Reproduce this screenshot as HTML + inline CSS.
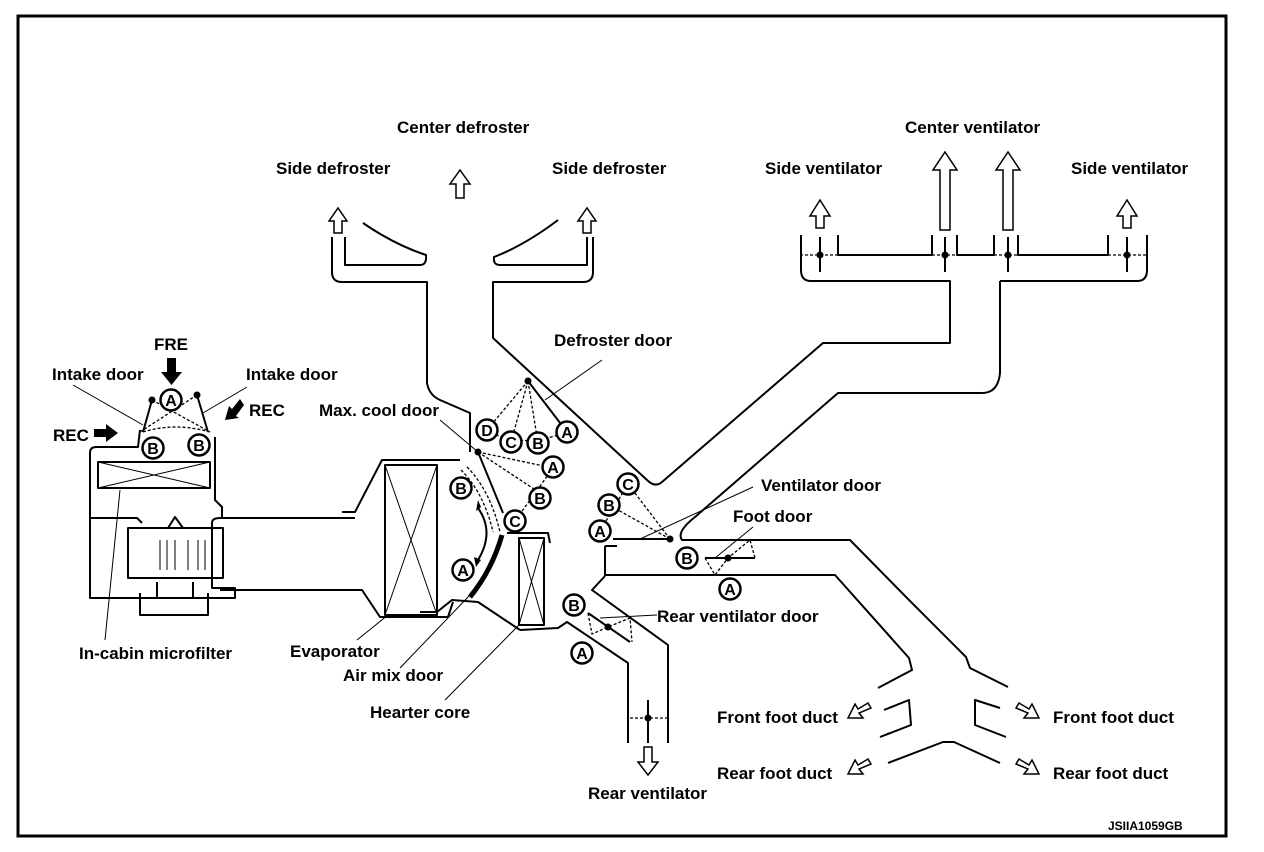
<!DOCTYPE html>
<html><head><meta charset="utf-8"><style>
html,body{margin:0;padding:0;background:#fff;}
svg{display:block;}
text{font-family:"Liberation Sans",Arial,sans-serif;font-size:17px;font-weight:bold;fill:#000;}
.c text{font-weight:bold;font-size:16px;text-anchor:middle;}
</style></head><body>
<svg width="1264" height="852" viewBox="0 0 1264 852" xmlns="http://www.w3.org/2000/svg">
<rect x="18" y="16" width="1208" height="820" fill="none" stroke="#000" stroke-width="3"/>
<g fill="none" stroke="#000" stroke-width="2" stroke-linejoin="round">
<path d="M332,237 V272 Q332,282 342,282 H427 V383 Q429,395 440,400 L470,413 V452"/>
<path d="M345,237 V265 H420 Q427,265 426,255 Q395,245 363,223"/>
<path d="M587,237 V265 H500 Q493,265 494,257 Q525,245 558,220"/>
<path d="M593,237 V272 Q593,282 583,282 H493 V338 L647,480 Q655,488 662,482 L823,343 H950 V281 H811 Q801,281 801,270 V235"/>
<path d="M1000,281 H1137 Q1147,281 1147,270 V235"/>
<path d="M1000,281 V373 Q998,393 982,393 H838 L695,517 Q676,532 682,540 H850 L909,600 L966,657 L970,668 L1008,687"/>
<path d="M605,546 H617 M605,546 V575 H835 L909,658 L912,670 L878,688"/>
<path d="M884,710 L909,700 L911,725 L880,737"/>
<path d="M1000,708 L975,700 L975,725 L1006,737"/>
<path d="M888,763 L943,742 L954,742 L1000,763"/>
<path d="M838,235 V255 H932 V235 M957,235 V255 H994 V235 M1018,235 V255 H1108 V235"/>
<path d="M605,576 L592,590 L668,645 V743"/>
<path d="M520,630 L558,628 L567,622 L628,663 V743"/>
<path d="M648,700 V743"/>
<path d="M420,612 H437 L452,600 L478,602 L520,630"/>
<rect x="519" y="538" width="25" height="87"/>
<path d="M507,533 H548 L550,543"/>
<path d="M342,512 H355 L382,460 H460"/>
<path d="M355,590 H362 L380,617 H448 L453,602"/>
<rect x="385" y="465" width="52" height="150"/>
<path d="M220,518 H355 M220,590 H355"/>
<path d="M140,430 L138,447 H96 Q90,447 90,453 V598 H235 V588 H212 V523 Q212,518 220,518"/>
<path d="M215,437 V500 L222,507 V518"/>
<path d="M90,518 H137 L142,523"/>
<path d="M140,593 V615 H208 V593 M157,582 V598 M193,582 V598"/>
<rect x="128" y="528" width="95" height="50"/>
<path d="M168,528 L175,517 L183,528"/>
<rect x="98" y="462" width="112" height="26"/>
<path d="M152,400 L143,432 M197,395 L208,432"/>
</g>
<g fill="none" stroke="#000" stroke-width="1">
<path d="M385,465 L437,615 M437,465 L385,615"/>
<path d="M519,538 L544,625 M544,538 L519,625"/>
<path d="M98,462 L210,488 M210,462 L98,488"/>
<path d="M160,540 V570 M167,540 V570 M175,540 V570 M188,540 V570 M198,540 V570 M205,540 V570 M212,540 V570"/>
<path d="M73,385 L143,425 M247,387 L203,413 M120,490 L105,640 M388,615 L357,640 M470,595 L400,668 M519,625 L445,700 M440,420 L478,452 M602,360 L545,400 M753,487 L640,539 M753,527 L715,558 M600,618 L657,615"/>
</g>
<g fill="none" stroke="#000" stroke-width="1.3" stroke-dasharray="3,2">
<path d="M152,400 L210,432 M197,395 L140,432 M143,432 Q175,422 210,432"/>
<path d="M528,381 L487,430 M528,381 L511,442 M528,381 L538,443 M487,430 Q520,450 567,432"/>
<path d="M478,452 L553,468 M478,452 L540,493 M553,468 L515,521"/>
<path d="M467,467 Q490,490 500,532 M461,470 Q484,493 493,532"/>
<path d="M670,539 L628,484 M670,539 L609,505 M628,484 L600,531"/>
<path d="M705,558 L715,575 L728,558 L750,540 L755,558"/>
<path d="M588,613 L592,634 L608,627 L630,618 L632,642"/>
<path d="M800,255 H838 M932,255 H957 M994,255 H1018 M1108,255 H1147 M630,718 H667"/>
</g>
<g stroke="#000" stroke-width="2" fill="none">
<path d="M528,381 L567,432 M478,452 L503,513 M613,539 H670 M705,558 H755 M588,613 L630,642"/>
<path d="M820,237 V272 M945,237 V272 M1008,237 V272 M1127,237 V272"/>
<path d="M478,508 Q495,532 478,560"/>
</g>
<path d="M502,535 Q492,570 470,597" stroke="#000" stroke-width="5" fill="none"/>
<g fill="#000">
<circle cx="152" cy="400" r="3.5"/><circle cx="197" cy="395" r="3.5"/>
<circle cx="528" cy="381" r="3.5"/><circle cx="478" cy="452" r="3.5"/>
<circle cx="670" cy="539" r="3.5"/><circle cx="728" cy="558" r="3.5"/>
<circle cx="608" cy="627" r="3.5"/><circle cx="648" cy="718" r="3.5"/>
<circle cx="820" cy="255" r="3.5"/><circle cx="945" cy="255" r="3.5"/>
<circle cx="1008" cy="255" r="3.5"/><circle cx="1127" cy="255" r="3.5"/>
<path d="M476,511 L481,507 L478,500 Z M474,557 L481,560 L476,567 Z"/>
<path d="M167,358 H176 V372 H182 L171.5,385 L161,372 H167 Z"/>
<path d="M94,429 H106 V424 L118,433 L106,442 V437 H94 Z"/>
<path d="M244,405 L236,416 L239,418 L225,420 L229,406 L232,409 L240,399 Z"/>
</g>
<g fill="#fff" stroke="#000" stroke-width="1.5">
<path d="M334,233 V221 H329 L338,208 L347,221 H342 V233 Z"/>
<path d="M456,198 V184 H450 L460,170 L470,184 H464 V198 Z"/>
<path d="M583,233 V221 H578 L587,208 L596,221 H591 V233 Z"/>
<path d="M816,228 V216 H810 L820,200 L830,216 H824 V228 Z"/>
<path d="M1123,228 V216 H1117 L1127,200 L1137,216 H1131 V228 Z"/>
<path d="M940,230 V170 H933 L945,152 L957,170 H950 V230 Z"/>
<path d="M1003,230 V170 H996 L1008,152 L1020,170 H1013 V230 Z"/>
<path d="M644,747 V762 H638 L648,775 L658,762 H652 V747 Z"/>
<path d="M868,703 L858,709 L855,704 L848,718 L863,718 L859,713 L871,708 Z"/>
<path d="M868,759 L858,765 L855,760 L848,774 L863,774 L859,769 L871,764 Z"/>
<path d="M1019,703 L1029,709 L1032,704 L1039,718 L1024,718 L1028,713 L1016,708 Z"/>
<path d="M1019,759 L1029,765 L1032,760 L1039,774 L1024,774 L1028,769 L1016,764 Z"/>
</g>
<g class="c">
<g fill="#fff" stroke="#000" stroke-width="2.5">
<circle cx="171" cy="400" r="10.5"/><circle cx="153" cy="448" r="10.5"/><circle cx="199" cy="445" r="10.5"/>
<circle cx="487" cy="430" r="10.5"/><circle cx="511" cy="442" r="10.5"/><circle cx="538" cy="443" r="10.5"/><circle cx="567" cy="432" r="10.5"/>
<circle cx="553" cy="467" r="10.5"/><circle cx="540" cy="498" r="10.5"/><circle cx="515" cy="521" r="10.5"/>
<circle cx="461" cy="488" r="10.5"/><circle cx="463" cy="570" r="10.5"/>
<circle cx="628" cy="484" r="10.5"/><circle cx="609" cy="505" r="10.5"/><circle cx="600" cy="531" r="10.5"/>
<circle cx="687" cy="558" r="10.5"/><circle cx="730" cy="589" r="10.5"/>
<circle cx="574" cy="605" r="10.5"/><circle cx="582" cy="653" r="10.5"/>
</g>
<text x="171" y="406">A</text><text x="153" y="454">B</text><text x="199" y="451">B</text>
<text x="487" y="436">D</text><text x="511" y="448">C</text><text x="538" y="449">B</text><text x="567" y="438">A</text>
<text x="553" y="473">A</text><text x="540" y="504">B</text><text x="515" y="527">C</text>
<text x="461" y="494">B</text><text x="463" y="576">A</text>
<text x="628" y="490">C</text><text x="609" y="511">B</text><text x="600" y="537">A</text>
<text x="687" y="564">B</text><text x="730" y="595">A</text>
<text x="574" y="611">B</text><text x="582" y="659">A</text>
</g>
<text x="397" y="133">Center defroster</text>
<text x="276" y="174">Side defroster</text>
<text x="552" y="174">Side defroster</text>
<text x="905" y="133">Center ventilator</text>
<text x="765" y="174">Side ventilator</text>
<text x="1071" y="174">Side ventilator</text>
<text x="554" y="346">Defroster door</text>
<text x="154" y="350">FRE</text>
<text x="52" y="380">Intake door</text>
<text x="246" y="380">Intake door</text>
<text x="249" y="416">REC</text>
<text x="53" y="441">REC</text>
<text x="319" y="416">Max. cool door</text>
<text x="761" y="491">Ventilator door</text>
<text x="733" y="522">Foot door</text>
<text x="657" y="622">Rear ventilator door</text>
<text x="79" y="659">In-cabin microfilter</text>
<text x="290" y="657">Evaporator</text>
<text x="343" y="681">Air mix door</text>
<text x="370" y="718">Hearter core</text>
<text x="717" y="723">Front foot duct</text>
<text x="1053" y="723">Front foot duct</text>
<text x="717" y="779">Rear foot duct</text>
<text x="1053" y="779">Rear foot duct</text>
<text x="588" y="799">Rear ventilator</text>
<text x="1108" y="830" style="font-size:12px">JSIIA1059GB</text>
</svg>
</body></html>
